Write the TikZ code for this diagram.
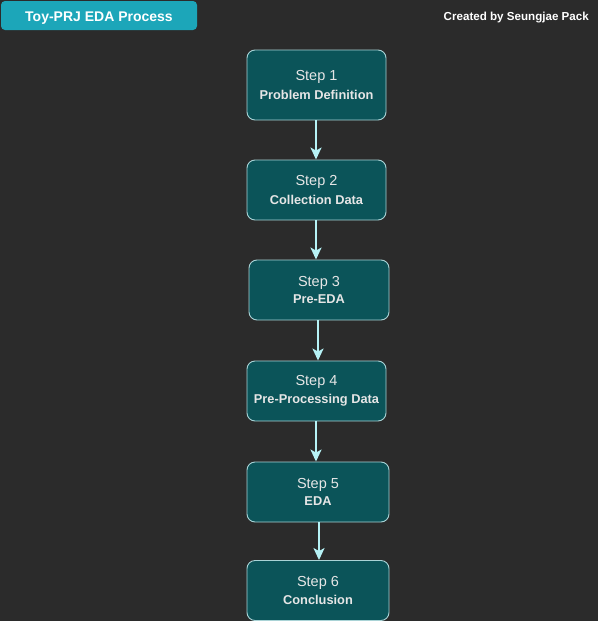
\documentclass[tikz,border=0pt]{standalone}
\usepackage{fontspec}
\setmainfont{Liberation Sans}
\usetikzlibrary{arrows.meta}
\definecolor{bg}{HTML}{2B2B2B}
\definecolor{nodefill}{HTML}{0B5459}
\definecolor{nodeedge}{HTML}{A9D3D6}
\definecolor{txt}{HTML}{E6E6E6}
\definecolor{arrowc}{HTML}{B6F2F6}
\definecolor{titlefill}{HTML}{1CA6B9}
\tikzset{
  stepbox/.style={draw=nodeedge, line width=0.9pt, fill=nodefill, rounded corners=8pt,
    minimum width=139pt, minimum height=60pt, inner sep=0pt, text=txt, align=center},
  flow/.style={draw=arrowc, line width=2pt, -{Stealth[length=12pt,width=11pt,inset=3pt]}},
}
\newcommand{\steplabel}[2]{{\fontsize{14.5}{19}\selectfont #1}\\[5pt]{\fontsize{12.8}{15}\selectfont\bfseries #2}}
\begin{document}
\begin{tikzpicture}[x=1pt,y=-1pt]
\fill[bg] (0,0) rectangle (598,621);
\useasboundingbox (0,0) rectangle (598,621);
\node[fill=titlefill, rounded corners=4pt, minimum width=196pt, minimum height=29pt, inner sep=0pt] (title) at (99,15.5) {};
\node[text=white, font=\fontsize{14}{16}\selectfont\bfseries, inner sep=0pt, anchor=base] (titletext) at (99,21) {Toy-PRJ EDA Process};
\node[anchor=base east, text=white, font=\fontsize{11.6}{14}\selectfont\bfseries, inner sep=0pt] (credit) at (589,20.5) {Created by Seungjae Pack};
\node[stepbox, minimum height=70pt] (s1) at (316.5,85) {\steplabel{Step 1}{Problem Definition}};
\node[stepbox] (s2) at (316.5,190) {\steplabel{Step 2}{Collection Data}};
\node[stepbox, minimum width=140pt] (s3) at (319,290) {\steplabel{Step 3}{Pre-EDA}};
\node[stepbox] (s4) at (316.5,391) {\steplabel{Step 4}{Pre-Processing Data}};
\node[stepbox, minimum width=142pt] (s5) at (318,492) {\steplabel{Step 5}{EDA}};
\node[stepbox, minimum width=142pt] (s6) at (318,590.5) {\steplabel{Step 6}{Conclusion}};
\draw[flow] (s1.south -| 316,0) -- (s2.north -| 316,0);
\draw[flow] (s2.south -| 316,0) -- (s3.north -| 316,0);
\draw[flow] (s3.south -| 318,0) -- (s4.north -| 318,0);
\draw[flow] (s4.south -| 316,0) -- (s5.north -| 316,0);
\draw[flow] (s5.south -| 319,0) -- (s6.north -| 319,0);
\end{tikzpicture}
\end{document}
